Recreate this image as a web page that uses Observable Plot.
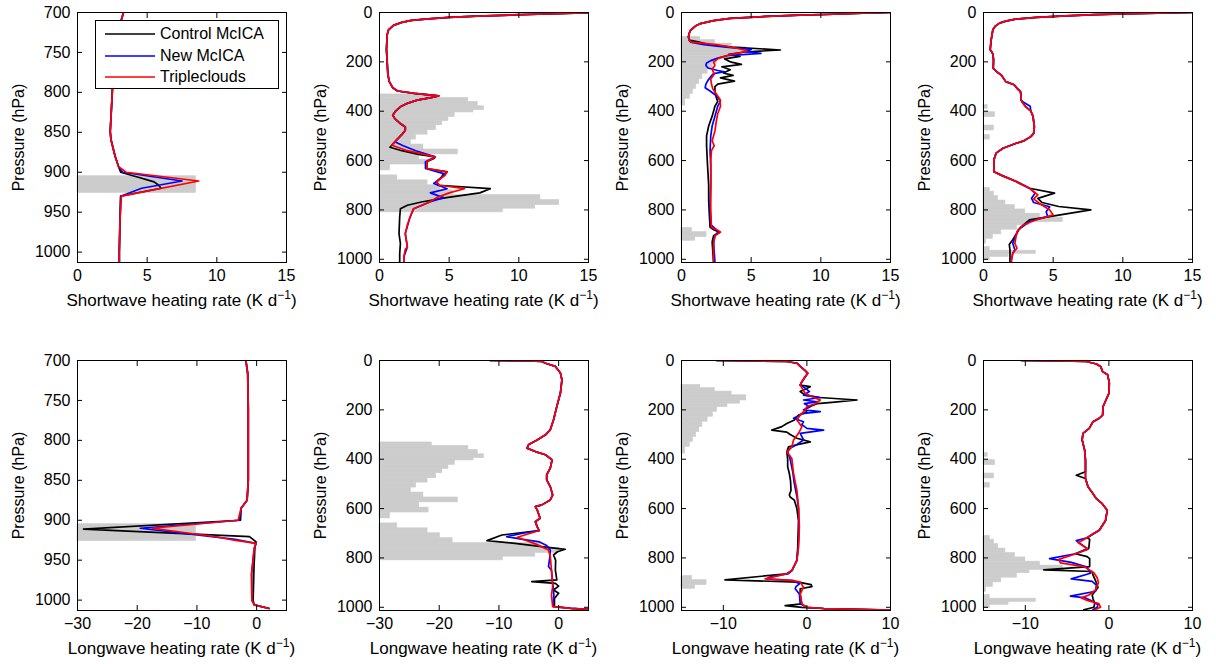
<!DOCTYPE html>
<html><head><meta charset="utf-8">
<script src="https://cdn.jsdelivr.net/npm/d3@7"></script>
<script src="https://cdn.jsdelivr.net/npm/@observablehq/plot@0.6"></script>
<style>
body{margin:0;background:#fff;font-family:"Liberation Sans",Arial,sans-serif;color:#000;}
#wrap{position:relative;width:1216px;height:664px;overflow:hidden;}
.panel{position:absolute;}
.xlabel{position:absolute;font-size:17px;line-height:18px;white-space:nowrap;transform:translateX(-50%);}
.xlabel sup{font-size:12px;vertical-align:7px;line-height:0;}
.legend{position:absolute;left:95px;top:20px;width:182px;height:67px;border:1px solid #000;background:#fff;font-size:16px;}
.legend .row{position:absolute;left:0;height:20px;line-height:20px;}
.legend svg{position:absolute;left:9px;top:0;}
.legend span{position:absolute;left:64px;white-space:nowrap;}
</style></head><body><div id="wrap"></div>
<script>
// ---------- tick labels ----------
const swTicks = [0, 5, 10, 15];
const lwTicksWide = [-30, -20, -10, 0];
const lwTicksNarrow = [-10, 0, 10];
const pTicksLow = [700, 750, 800, 850, 900, 950, 1000];
const pTicksFull = [0, 200, 400, 600, 800, 1000];
const seriesNames = ["Control McICA", "New McICA", "Tripleclouds"];
const seriesColors = ["#000000", "#0000ff", "#ff0000"];

// ---------- cloud fraction profiles [pTop, pBottom, fraction] ----------
const cloud1 = [[905, 915, 0.567], [915, 926, 0.567]];
const cloud2 = [[332,346,0.25],[346,362,0.425],[362,380,0.47],[380,396,0.50],[396,405,0.45],[405,423,0.36],[423,440,0.33],[440,457,0.30],[457,477,0.27],[477,495,0.23],[495,515,0.175],[515,535,0.15],[535,555,0.21],[555,575,0.375],[575,596,0.19],[596,616,0.235],[616,640,0.05],[660,680,0.085],[680,700,0.23],[700,720,0.29],[720,740,0.35],[740,760,0.77],[760,780,0.86],[780,795,0.745],[795,810,0.59]];
const cloud3 = [[99,112,0.09],[112,126,0.16],[126,141,0.24],[141,162,0.31],[162,175,0.28],[175,189,0.22],[189,208,0.17],[208,228,0.15],[228,248,0.125],[248,270,0.10],[270,290,0.085],[290,310,0.07],[310,330,0.055],[330,350,0.04],[350,377,0.018],[873,890,0.05],[890,910,0.12],[910,925,0.065]];
const cloud4 = [[375,390,0.02],[404,424,0.055],[458,478,0.05],[496,515,0.03],[710,726,0.03],[726,744,0.05],[744,762,0.07],[762,780,0.105],[780,798,0.15],[798,815,0.2],[815,831,0.27],[831,849,0.38],[849,862,0.22],[862,880,0.16],[880,899,0.085],[899,917,0.045],[917,937,0.012],[950,965,0.03],[965,978,0.25],[978,990,0.12],[990,1004,0.03]];

// ---------- heating-rate profiles [pressure hPa, K/day] ----------
// Case 1 shortwave
const sw1Top = [[700,3.3],[709,3.15],[726,2.95],[749,2.7],[767,2.6],[799,2.5],[849,2.35],[859,2.4],[880,2.7],[893,2.95]];
const sw1Control = sw1Top.concat([[900,3.1],[906,4.3],[912,5.5],[916,5.8],[920,6.0],[930,3.1],[960,3.05],[1000,3.0],[1013,3.0]]);
const sw1New = sw1Top.concat([[900,3.25],[911,7.5],[920,4.6],[930,3.1],[960,3.05],[1000,3.0],[1013,3.0]]);
const sw1Triple = sw1Top.concat([[900,3.5],[911,8.7],[930,3.15],[960,3.05],[1000,3.0],[1013,3.0]]);
// Case 1 longwave
const lw1Top = [[700,-1.8],[716,-1.5],[760,-1.4],[800,-1.4],[850,-1.4],[875,-1.6],[885,-2.6]];
const lw1Control = lw1Top.concat([[900,-2.7],[911,-29.0],[920.5,-1.2],[927,-0.1],[935,-0.3],[960,-0.45],[990,-0.55],[1000,-0.6],[1006,-0.4],[1010.5,2.1]]);
const lw1New = lw1Top.concat([[900,-2.9],[910,-19.5],[924,-3.6],[929,-0.1],[935,-0.4],[967,-0.85],[1000,-0.8],[1006,-0.4],[1010.5,2.1]]);
const lw1Triple = lw1Top.concat([[900,-3.1],[910,-17.5],[921,-6.5],[925,-3.8],[929,-0.1],[935,-0.4],[967,-0.85],[1000,-0.8],[1006,-0.4],[1010.5,2.1]]);

// Case 2 shortwave
const sw2Top = [[0,15],[3,14],[6,12],[10,9.5],[15,7],[20,5],[26,3.5],[32,2.3],[40,1.6],[52,1.0],[70,0.65],[90,0.55],[150,0.5],[200,0.55],[250,0.6],[280,0.7],[305,0.95],[318,1.3],[328,2.5],[338,4.25],[346,3.6],[355,2.7],[368,2.0],[382,1.5],[400,1.15],[416,0.95],[430,1.1],[450,1.5],[464,1.85],[477,1.85],[495,1.6],[518,1.2]];
const sw2Control = sw2Top.concat([[530,1.0],[540,0.85],[546,0.75],[560,1.6],[575,2.8],[585,4.0],[592,3.9],[605,3.4],[632,3.4],[646,4.85],[660,4.6],[686,4.1],[700,4.2],[714,7.95],[731,7.2],[750,4.8],[768,3.0],[781,2.0],[795,1.5],[828,1.45],[896,1.4],[936,1.5],[977,1.45],[1013,1.45]]);
const sw2New = sw2Top.concat([[524,1.1],[540,1.7],[560,2.6],[585,4.0],[605,3.3],[632,3.3],[653,4.6],[670,4.4],[693,3.9],[714,4.85],[731,3.65],[750,4.6],[768,3.6],[795,2.45],[828,2.2],[896,1.85],[950,2.0],[990,1.75],[1013,1.75]]);
const sw2Triple = sw2Top.concat([[530,1.0],[538,0.9],[560,2.0],[585,4.0],[605,3.4],[632,3.4],[646,4.85],[660,4.7],[686,4.1],[700,4.3],[714,6.1],[731,5.0],[750,4.1],[768,3.6],[795,2.45],[828,2.2],[860,2.0],[896,1.85],[950,2.0],[960,1.85],[990,1.75],[1013,1.75]]);
// Case 2 longwave
const lw2Top = [[0,-11.5],[2,-5],[4,-2.8],[11,-2.2],[24,-0.55],[51,0.3],[78,0.55],[132,0.3],[186,-0.3],[240,-0.85],[281,-1.4],[301,-2.2],[322,-3.6],[340,-5.0],[355,-5.3],[369,-3.9],[382,-2.2],[403,-1.1],[436,-1.4],[463,-2.0],[484,-2.0],[511,-1.4],[545,-1.0],[565,-1.4],[585,-2.8],[592,-3.9],[605,-3.6],[619,-3.4],[639,-3.1],[653,-3.9],[673,-3.6],[689,-3.25]];
const lw2Control = lw2Top.concat([[707,-9.5],[730,-12.0],[741,-7.3],[755,-2.5],[765,1.1],[775,-0.2],[788,-0.85],[810,-0.5],[849,-0.55],[889,-0.3],[896,-4.5],[903,-0.55],[914,0],[930,-0.85],[943,0],[964,-0.7],[997,-0.7],[1004,2],[1008,5]]);
const lw2New = lw2Top.concat([[700,-6.0],[714,-8.7],[725,-6.0],[735,-3.2],[750,-2.0],[768,-1.4],[800,-1.5],[835,-1.7],[850,-1.2],[900,-1.0],[950,-0.8],[997,-0.9],[1004,2],[1008,5]]);
const lw2Triple = lw2Top.concat([[716,-6.9],[743,-3.9],[768,-1.7],[795,-1.4],[849,-1.2],[916,-1.0],[950,-1.2],[997,-1.0],[1004,2],[1008,5]]);

// Case 3 shortwave
const sw3Top = [[0,15],[3,13],[7,10.9],[11,8.5],[16,6.1],[24,3.5],[33,2.3],[45,1.36],[55,1.0],[72,0.65],[85,0.55],[99,0.5],[112,0.55]];
const sw3Control = sw3Top.concat([[118,1.1],[130,2.0],[140,3.6],[152,7.1],[160,4.5],[170,3.4],[178,4.2],[188,3.1],[200,3.5],[210,4.3],[220,2.9],[232,3.5],[245,3.0],[255,3.7],[265,2.8],[278,3.8],[290,2.6],[300,2.4],[320,2.4],[345,2.5],[360,2.6],[380,2.4],[420,2.2],[460,1.95],[500,1.8],[540,1.8],[600,1.85],[650,1.9],[700,1.95],[760,1.95],[820,2.0],[870,2.05],[880,2.3],[890,2.75],[905,2.3],[930,2.2],[970,2.25],[1013,2.3]]);
const sw3New = sw3Top.concat([[120,0.65],[130,1.6],[140,3.2],[150,5.0],[158,4.6],[166,5.7],[175,3.3],[185,2.6],[195,2.1],[205,1.8],[215,1.75],[225,1.9],[235,2.6],[240,3.1],[248,2.3],[260,2.1],[275,1.9],[290,1.75],[305,1.7],[320,2.1],[340,2.55],[358,2.8],[380,2.6],[420,2.4],[460,2.2],[500,2.1],[560,2.05],[620,2.1],[700,2.1],[780,2.05],[860,2.1],[880,2.5],[890,2.6],[905,2.4],[930,2.3],[970,2.35],[1013,2.4]]);
const sw3Triple = sw3Top.concat([[120,0.7],[130,2.5],[145,4.0],[155,4.7],[162,4.3],[172,3.4],[185,2.7],[200,2.3],[215,2.4],[230,2.2],[250,2.35],[270,2.1],[290,2.15],[310,2.25],[330,2.5],[350,2.75],[380,2.8],[410,2.6],[440,2.5],[480,2.4],[520,2.2],[540,2.35],[560,2.15],[600,2.1],[700,2.1],[800,2.1],[870,2.15],[882,2.6],[890,2.8],[905,2.4],[940,2.3],[980,2.3],[1013,2.3]]);
// Case 3 longwave
const lw3Top = [[0,-10.8],[2,-6],[4,-2.4],[11,-1.2],[24,-0.8],[41,-0.2],[52,0.1],[66,-0.2],[86,-0.6],[100,-0.8]];
const lw3Control = lw3Top.concat([[106,0.4],[126,-0.8],[140,-0.2],[150,1.5],[160,6.0],[170,3.0],[175,1.2],[187,0.3],[200,-0.2],[210,0],[221,-1.0],[241,-1.5],[255,-2.4],[268,-3.0],[282,-4.2],[290,-2.4],[300,-2.0],[315,-1.2],[330,0.4],[340,-1.0],[350,-2.2],[370,-2.4],[400,-2.3],[431,-2.3],[458,-2.1],[490,-1.95],[526,-1.9],[545,-2.1],[553,-2.0],[566,-1.5],[600,-1.2],[650,-1.0],[700,-1.05],[760,-1.1],[810,-1.2],[851,-1.8],[864,-2.4],[889,-9.8],[898,-1.0],[908,0.5],[916,0.6],[925,-0.8],[946,-0.8],[973,-0.7],[986,-0.6],[993,-2.6],[1000,-0.6],[1005,2],[1011,10]]);
const lw3New = lw3Top.concat([[112,-0.2],[126,0.3],[140,-0.4],[150,1.6],[160,-0.4],[168,1.2],[175,-0.3],[187,0.4],[200,-0.4],[207,1.6],[215,-0.6],[221,-0.8],[234,-1.6],[248,-0.4],[260,-0.6],[275,0],[282,2.0],[295,-0.8],[322,-0.4],[340,-1.2],[356,-2.0],[370,-2.3],[400,-2.0],[450,-1.7],[500,-1.5],[550,-1.2],[600,-1.0],[700,-0.95],[760,-1.05],[810,-1.2],[851,-1.8],[864,-2.2],[878,-4.5],[885,-4.8],[892,-1.6],[905,-0.9],[916,-1.3],[925,-1.4],[946,-0.9],[986,-0.8],[1000,0],[1005,2],[1011,10]]);
const lw3Triple = lw3Top.concat([[133,-0.2],[150,0.8],[160,1.6],[175,1.0],[187,0],[200,-0.2],[221,-0.8],[241,-1.2],[268,-0.6],[295,-1.0],[322,-1.6],[350,-1.8],[370,-2.4],[397,-1.8],[458,-1.6],[526,-1.2],[594,-1.0],[675,-0.9],[756,-1.0],[810,-1.2],[851,-1.8],[864,-2.4],[885,-5.0],[892,-1.6],[898,-0.8],[919,-0.4],[946,-0.8],[986,-0.6],[1000,0],[1005,2],[1011,10]]);

// Case 4 shortwave
const sw4Top = [[0,15],[3,12.5],[5,10.7],[9,8],[14,5.9],[20,3.8],[27,2.3],[35,1.6],[43,1.15],[55,0.85],[70,0.67],[111,0.55],[151,0.48],[160,0.6],[170,0.68],[192,0.72],[226,0.7],[240,0.95],[255,1.3],[280,1.6],[293,2.2],[310,2.45],[320,2.65],[340,2.7],[355,2.7]];
const sw4Mid = [[420,3.55],[462,3.65],[490,3.6],[503,3.4],[520,2.9],[530,2.35],[550,1.4],[570,0.9],[597,0.75],[645,0.75],[660,1.3],[685,2.35],[712,3.3]];
const sw4Control = sw4Top.concat([[365,2.8],[380,3.0],[400,3.4]], sw4Mid, [[732,5.1],[753,3.9],[770,4.2],[786,5.4],[800,7.7],[820,5.5],[840,3.3],[874,2.6],[921,2.1],[940,1.85],[962,1.9],[1003,1.9],[1013,1.9]]);
const sw4New = sw4Top.concat([[365,2.9],[380,3.35],[400,3.4]], sw4Mid, [[732,3.7],[753,3.45],[770,3.6],[787,4.75],[807,4.5],[827,4.6],[847,3.3],[881,2.5],[935,2.1],[962,2.25],[975,2.1],[1003,2.0],[1013,2.0]]);
const sw4Triple = sw4Top.concat([[365,2.8],[380,3.0],[400,3.4]], sw4Mid, [[739,3.9],[755,3.6],[773,4.0],[800,4.75],[820,5.0],[840,3.8],[861,2.85],[888,2.4],[935,2.25],[955,2.4],[976,2.1],[1003,2.0],[1013,2.0]]);
// Case 4 longwave
const lw4Top = [[0,-10.5],[2,-6],[4,-2.7],[14,-1.5],[24,-1.0],[45,-0.75],[58,-0.15],[92,0.05],[133,0],[160,-0.35],[187,-0.7],[221,-0.75],[234,-1.15],[248,-1.9],[275,-2.35],[295,-3.1],[322,-3.2],[363,-2.9],[404,-2.8],[451,-2.8]];
const lw4Mid = [[478,-2.8],[512,-2.5],[535,-2.0],[560,-1.5],[580,-0.8],[607,-0.2],[648,-0.4],[688,-1.15],[705,-2.0],[718,-2.6]];
const lw4Control = lw4Top.concat([[465,-3.9]], lw4Mid, [[725,-2.3],[760,-2.4],[783,-4.0],[795,-2.6],[803,-2.3],[835,-2.3],[848,-7.8],[855,-2.0],[870,-1.9],[892,-1.6],[920,-1.3],[950,-2.0],[965,-1.9],[985,-1.7],[1000,-1.8],[1010,-3.0]]);
const lw4New = lw4Top.concat([[465,-2.8]], lw4Mid, [[730,-3.9],[765,-2.5],[783,-4.0],[803,-7.1],[818,-4.5],[837,-2.6],[850,-2.4],[862,-2.2],[885,-4.5],[895,-2.0],[910,-1.5],[935,-1.6],[955,-4.6],[962,-2.8],[975,-2.0],[990,-1.3],[1000,-1.4],[1010,-1.9]]);
const lw4Triple = lw4Top.concat([[465,-2.8]], lw4Mid, [[738,-3.7],[765,-2.5],[786,-4.2],[806,-6.0],[820,-5.8],[835,-3.0],[860,-1.8],[880,-1.4],[900,-1.25],[930,-1.6],[950,-2.4],[962,-3.3],[972,-2.6],[985,-1.2],[1000,-1.0],[1010,-1.7]]);

// ---------- panel setup ----------
const panels = [
  {row:0,col:0,x:[0,15],xt:swTicks,y:[700,1013],yt:pTicksLow,cloud:cloud1,s:[sw1Control,sw1New,sw1Triple],kind:"Shortwave"},
  {row:0,col:1,x:[0,15],xt:swTicks,y:[0,1013],yt:pTicksFull,cloud:cloud2,s:[sw2Control,sw2New,sw2Triple],kind:"Shortwave"},
  {row:0,col:2,x:[0,15],xt:swTicks,y:[0,1013],yt:pTicksFull,cloud:cloud3,s:[sw3Control,sw3New,sw3Triple],kind:"Shortwave"},
  {row:0,col:3,x:[0,15],xt:swTicks,y:[0,1013],yt:pTicksFull,cloud:cloud4,s:[sw4Control,sw4New,sw4Triple],kind:"Shortwave"},
  {row:1,col:0,x:[-30,5],xt:lwTicksWide,y:[700,1013],yt:pTicksLow,cloud:cloud1,s:[lw1Control,lw1New,lw1Triple],kind:"Longwave"},
  {row:1,col:1,x:[-30,5],xt:lwTicksWide,y:[0,1013],yt:pTicksFull,cloud:cloud2,s:[lw2Control,lw2New,lw2Triple],kind:"Longwave"},
  {row:1,col:2,x:[-15,10],xt:lwTicksNarrow,y:[0,1013],yt:pTicksFull,cloud:cloud3,s:[lw3Control,lw3New,lw3Triple],kind:"Longwave"},
  {row:1,col:3,x:[-15,10],xt:lwTicksNarrow,y:[0,1013],yt:pTicksFull,cloud:cloud4,s:[lw4Control,lw4New,lw4Triple],kind:"Longwave"}
];

const W = 302, H = 330, mL = 77, mR = 16, mT = 12, mB = 68;
const wrap = document.getElementById("wrap");
const blank = () => "";
const plain = d => String(d);

panels.forEach(pn => {
  const x0 = pn.x[0], span = pn.x[1] - pn.x[0];
  const marks = [
    Plot.rect(pn.cloud, {x1: () => x0, x2: d => x0 + d[2] * span, y1: d => d[0], y2: d => d[1], fill: "#cccccc", stroke: "#cccccc", strokeWidth: 0.6}),
    ...pn.s.map((arr, i) => Plot.line(arr, {x: d => d[1], y: d => d[0], stroke: seriesColors[i], strokeWidth: 1.7, clip: true})),
    Plot.frame({stroke: "#000", strokeWidth: 1}),
    Plot.axisX(pn.xt, {anchor: "bottom", tickSize: 0, tickPadding: 7, label: null}),
    Plot.axisX(pn.xt, {anchor: "bottom", tickSize: -5, tickFormat: blank, label: null}),
    Plot.axisX(pn.xt, {anchor: "top", tickSize: -5, tickFormat: blank, label: null}),
    Plot.axisY(pn.yt, {anchor: "left", tickSize: 0, tickPadding: 7, tickFormat: plain, label: "Pressure (hPa)", labelAnchor: "center", labelArrow: "none", labelOffset: 65}),
    Plot.axisY(pn.yt, {anchor: "left", tickSize: -5, tickFormat: blank, label: null}),
    Plot.axisY(pn.yt, {anchor: "right", tickSize: -5, tickFormat: blank, label: null})
  ];
  const svg = Plot.plot({
    width: W, height: H, marginLeft: mL, marginRight: mR, marginTop: mT, marginBottom: mB,
    style: {fontSize: "16px", fontFamily: "'Liberation Sans', Arial, sans-serif", color: "#000", background: "transparent", overflow: "visible"},
    x: {domain: pn.x, ticks: pn.xt},
    y: {domain: pn.y, reverse: true, ticks: pn.yt},
    marks
  });
  const div = document.createElement("div");
  div.className = "panel";
  div.style.left = (pn.col * W) + "px";
  div.style.top = (pn.row * 348) + "px";
  div.appendChild(svg);
  wrap.appendChild(div);

  const lab = document.createElement("div");
  lab.className = "xlabel";
  lab.style.left = (pn.col * W + mL + (W - mL - mR) / 2) + "px";
  lab.style.top = (pn.row * 348 + 292) + "px";
  lab.innerHTML = pn.kind + " heating rate (K d<sup>\u22121</sup>)";
  wrap.appendChild(lab);
});

// legend (first panel)
const leg = document.createElement("div");
leg.className = "legend";
seriesNames.forEach((name, i) => {
  const row = document.createElement("div");
  row.className = "row";
  row.style.top = (3 + i * 21.5) + "px";
  row.style.width = "182px";
  row.innerHTML = `<svg width="52" height="20"><line x1="0" x2="50" y1="10" y2="10" stroke="${seriesColors[i]}" stroke-width="1.7"/></svg><span>${name}</span>`;
  leg.appendChild(row);
});
wrap.appendChild(leg);
</script></body></html>
